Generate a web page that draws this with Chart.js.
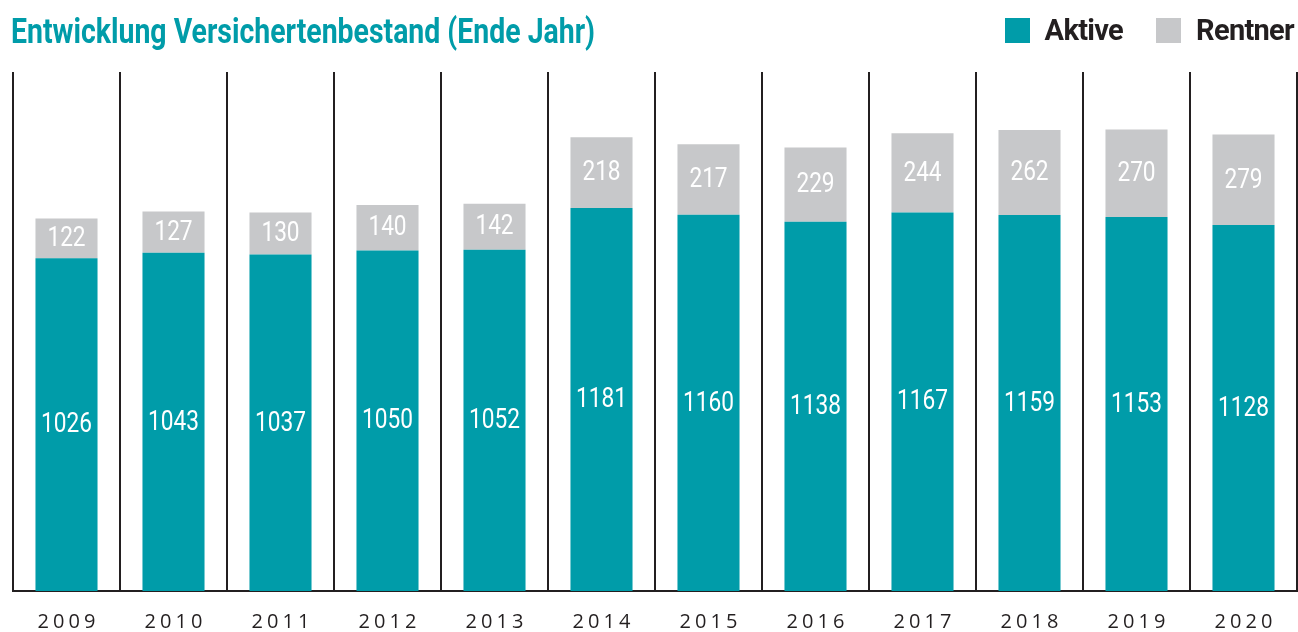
<!DOCTYPE html>
<html lang="de">
<head>
<meta charset="utf-8">
<script src="https://cdn.jsdelivr.net/npm/chart.js@4.4.1/dist/chart.umd.min.js"></script>
<style>
  body { margin: 0; background: #fff; }
  #wrap { position: relative; width: 1298px; height: 632px; }
  #title {
    position: absolute; left: 11px; top: 14px;
    font: bold 35px/35px Roboto, sans-serif;
    color: #009ca9; white-space: nowrap; transform-origin: 0 0;
  }
  #legend {
    position: absolute; right: 4px; top: 18px; height: 25px;
    display: flex; align-items: center; gap: 33px;
    font: bold 29px/25px Roboto, sans-serif; letter-spacing: -0.7px; color: #231f20;
  }
  .item { display: flex; align-items: center; gap: 15px; }
  .box { width: 25px; height: 25px; }
</style>
</head>
<body>
<div id="wrap">
  <div id="title">Entwicklung Versichertenbestand (Ende Jahr)</div>
  <div id="legend"></div>
  <canvas id="chart" width="1298" height="632"></canvas>
</div>
<script>
const years = ['2009', '2010', '2011', '2012', '2013', '2014', '2015', '2016', '2017', '2018', '2019', '2020'];
const aktive = [1026, 1043, 1037, 1050, 1052, 1181, 1160, 1138, 1167, 1159, 1153, 1128];
const rentner = [122, 127, 130, 140, 142, 218, 217, 229, 244, 262, 270, 279];

const TEAL = '#009ca9';
const GREY = '#c7c8ca';
const INK = '#231f20';

// Titel schmaler machen (Vorlage nutzt eine Condensed-Schrift)
const titleEl = document.getElementById('title');
titleEl.style.transform = `scaleX(${584 / titleEl.offsetWidth})`;

// Werte mittig in die Balken schreiben, leicht gestaucht
const barLabels = {
    id: 'barLabels',
    afterDatasetsDraw(chart) {
        const ctx = chart.ctx;
        const sx = 0.84;
        ctx.save();
        ctx.font = '400 27px Roboto, sans-serif';
        ctx.fillStyle = '#fff';
        ctx.textAlign = 'center';
        ctx.textBaseline = 'middle';
        chart.data.datasets.forEach((ds, i) => {
            chart.getDatasetMeta(i).data.forEach((bar, j) => {
                const { x, y, base } = bar.getProps(['x', 'y', 'base'], true);
                ctx.save();
                ctx.translate(x, (y + base) / 2);
                ctx.scale(sx, 1);
                ctx.fillText(ds.data[j], 0, 1);
                ctx.restore();
            });
        });
        ctx.restore();
    }
};

const chart = new Chart(document.getElementById('chart'), {
    type: 'bar',
    data: {
        labels: years,
        datasets: [
            { label: 'Aktive', data: aktive, backgroundColor: TEAL, borderWidth: 0 },
            { label: 'Rentner', data: rentner, backgroundColor: GREY, borderWidth: 0 }
        ]
    },
    options: {
        responsive: false,
        animation: false,
        devicePixelRatio: 1,
        barPercentage: 0.58,
        categoryPercentage: 1,
        layout: { padding: { left: 13, right: 1, top: 72, bottom: -21 } },
        plugins: {
            tooltip: { enabled: false },
            legend: { display: false }
        },
        scales: {
            x: {
                stacked: true,
                grid: { offset: true, color: INK, lineWidth: 2, drawTicks: false },
                border: { color: INK, width: 2 },
                ticks: {
                    color: INK, padding: 19,
                    font: { family: 'Open Sans', size: 20 },
                    callback: (v, i) => years[i].split('').join('\u200A\u200A')
                }
            },
            y: { stacked: true, display: false, min: 0, max: 1600 }
        }
    },
    plugins: [barLabels]
});

// Legende aus den Datensätzen
const legendEl = document.getElementById('legend');
chart.data.datasets.forEach(ds => {
    const item = document.createElement('div');
    item.className = 'item';
    item.innerHTML = `<span class="box" style="background:${ds.backgroundColor}"></span><span>${ds.label}</span>`;
    legendEl.appendChild(item);
});
</script>
</body>
</html>
